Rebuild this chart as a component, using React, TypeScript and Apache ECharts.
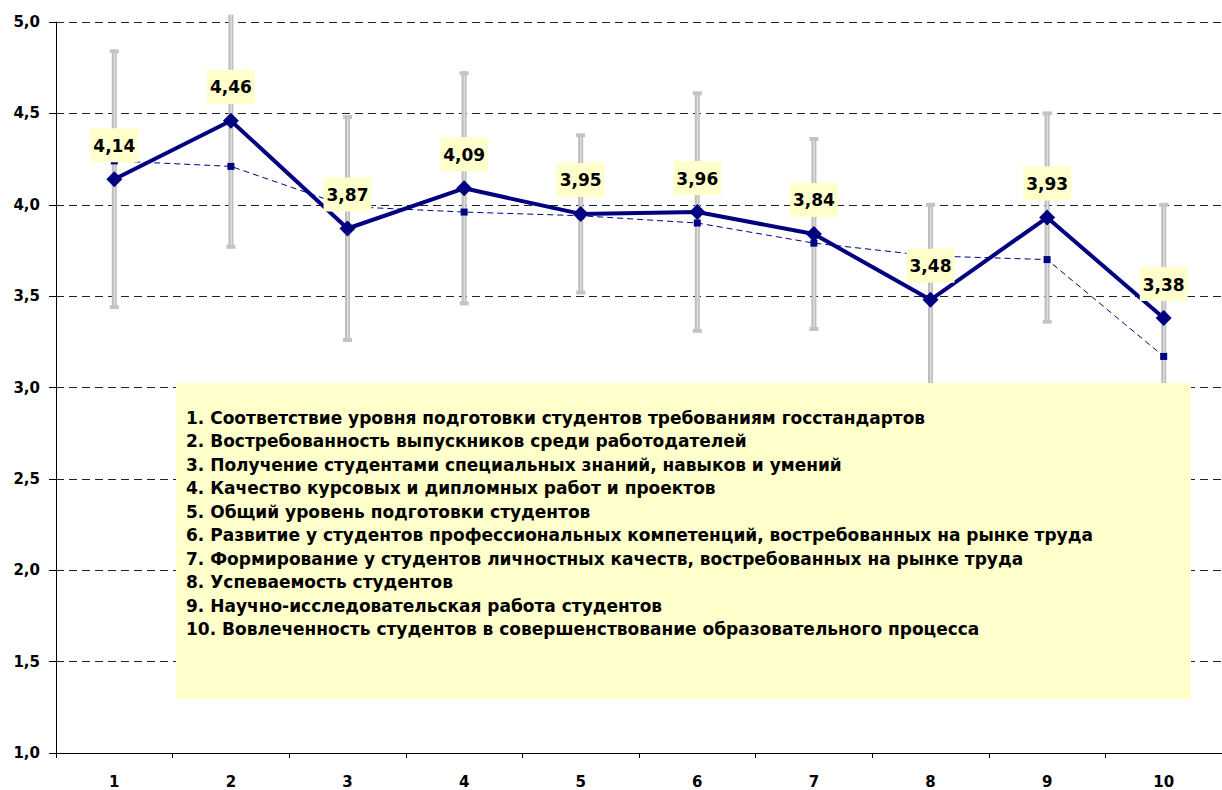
import React, { useEffect, useRef } from "react";
import * as echarts from "echarts";

const categories = ["1", "2", "3", "4", "5", "6", "7", "8", "9", "10"];
const mainValues = [4.14, 4.46, 3.87, 4.09, 3.95, 3.96, 3.84, 3.48, 3.93, 3.38];
const secondValues = [4.24, 4.21, 3.99, 3.96, 3.94, 3.9, 3.79, 3.72, 3.7, 3.17];
const errors = [0.7, 0.69, 0.61, 0.63, 0.43, 0.65, 0.52, 0.52, 0.57, 0.62];
const legendItems = [
  "1. Соответствие уровня подготовки студентов требованиям госстандартов",
  "2. Востребованность выпускников среди работодателей",
  "3. Получение студентами специальных знаний, навыков и умений",
  "4. Качество курсовых и дипломных работ и проектов",
  "5. Общий уровень подготовки студентов",
  "6. Развитие у студентов профессиональных компетенций, востребованных на рынке труда",
  "7. Формирование у студентов личностных качеств, востребованных на рынке труда",
  "8. Успеваемость студентов",
  "9. Научно-исследовательская работа студентов",
  "10. Вовлеченность студентов в совершенствование образовательного процесса",
];

const FONT = "DejaVu Sans, Liberation Sans, Arial, sans-serif";
const fmt = (v: number, d: number) => v.toFixed(d).replace(".", ",");

export default function App() {
  const ref = useRef<HTMLDivElement>(null);
  useEffect(() => {
    if (!ref.current) return;
    const chart = echarts.init(ref.current, undefined, { renderer: "svg" });
    const errData = mainValues.map((v, i) => [i, v - errors[i], v + errors[i]]);
    const PLOT_TOP_VALUE = 5.04;
    chart.setOption({
      animation: false,
      backgroundColor: "#ffffff",
      grid: { left: 56, top: 22, width: 1180, height: 731, containLabel: false },
      xAxis: {
        type: "category",
        data: categories,
        boundaryGap: true,
        axisLine: { show: true, lineStyle: { color: "#000", width: 1 } },
        axisTick: { show: true, interval: 0, length: 5, lineStyle: { color: "#000" } },
        axisLabel: {
          interval: 0,
          margin: 21,
          color: "#000",
          fontFamily: FONT,
          fontWeight: "bold",
          fontSize: 15,
        },
        splitLine: { show: false },
      },
      yAxis: {
        type: "value",
        min: 1,
        max: 5,
        interval: 0.5,
        axisLine: { show: true, lineStyle: { color: "#000", width: 1 } },
        axisTick: { show: true, length: 7, lineStyle: { color: "#000" } },
        axisLabel: {
          margin: 16,
          color: "#000",
          fontFamily: FONT,
          fontWeight: "bold",
          fontSize: 15,
          formatter: (v: number) => fmt(v, 1),
        },
        splitLine: { show: true, lineStyle: { color: "#222", width: 1, type: [8, 5] } },
      },
      series: [
        {
          type: "custom",
          name: "errors",
          z: 1,
          data: errData,
          renderItem: (params: any, api: any) => {
            const i = api.value(0);
            const lo = api.value(1);
            const hi = api.value(2);
            const clipped = hi > PLOT_TOP_VALUE;
            const pLo = api.coord([i, lo]);
            const pHi = api.coord([i, Math.min(hi, PLOT_TOP_VALUE)]);
            const x = pLo[0];
            const children: any[] = [
              {
                type: "rect",
                shape: { x: x - 2.5, y: pHi[1], width: 5, height: pLo[1] - pHi[1] },
                style: { fill: "#bdbdbd" },
              },
              {
                type: "rect",
                shape: { x: x - 0.5, y: pHi[1], width: 1.5, height: pLo[1] - pHi[1] },
                style: { fill: "#dedede" },
              },
              {
                type: "rect",
                shape: { x: x - 4.5, y: pLo[1] - 2, width: 9, height: 4 },
                style: { fill: "#c4c4c4" },
              },
            ];
            if (!clipped) {
              children.push({
                type: "rect",
                shape: { x: x - 4.5, y: pHi[1] - 2, width: 9, height: 4 },
                style: { fill: "#c4c4c4" },
              });
            }
            return { type: "group", children };
          },
        },
        {
          type: "line",
          name: "second",
          z: 2,
          data: secondValues,
          symbol: "rect",
          symbolSize: 7,
          itemStyle: { color: "#000080" },
          lineStyle: { color: "#000080", width: 1, type: [6, 4] },
        },
        {
          type: "line",
          name: "main",
          z: 3,
          data: mainValues,
          symbol: "diamond",
          symbolSize: 16,
          itemStyle: { color: "#000080" },
          lineStyle: { color: "#000080", width: 4 },
          label: {
            show: true,
            position: "top",
            distance: 9,
            formatter: (p: any) => fmt(p.value, 2),
            color: "#000",
            fontFamily: FONT,
            fontWeight: "bold",
            fontSize: 17,
            backgroundColor: "#ffffcc",
            padding: [9, 3, 8, 3],
          },
        },
      ],
      graphic: [
        {
          type: "rect",
          z: 100,
          left: 176,
          top: 383,
          shape: { width: 1015, height: 316 },
          style: { fill: "#ffffcc" },
        },
        {
          type: "text",
          z: 101,
          left: 186,
          top: 406,
          style: {
            text: legendItems.join("\n"),
            fill: "#000",
            fontFamily: FONT,
            fontWeight: "bold",
            fontSize: 17,
            lineHeight: 23.5,
          },
        },
      ],
    });
    return () => chart.dispose();
  }, []);
  return (
    <div
      ref={ref}
      style={{ position: "absolute", left: 0, top: 0, width: 1222, height: 790, overflow: "hidden" }}
    />
  );
}
